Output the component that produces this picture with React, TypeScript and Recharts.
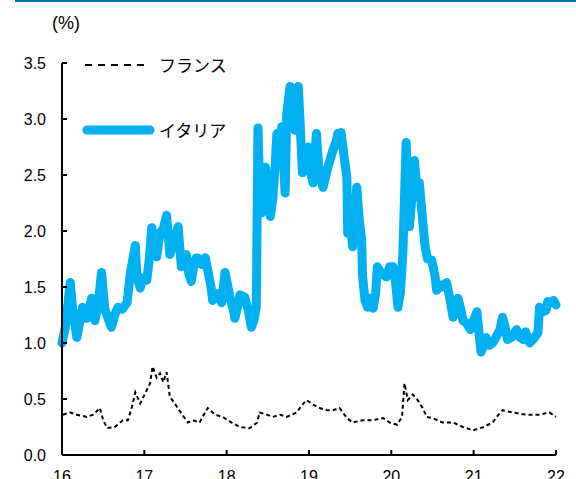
import { LineChart, Line, XAxis, YAxis } from "recharts"

// Italy spread (%), year as decimal (16 = 2016)
const italyYears = [
  16.0, 16.04, 16.1, 16.13, 16.18, 16.22, 16.25, 16.3, 16.36, 16.4, 16.44, 16.48, 16.52, 16.56, 16.6, 16.64,
  16.68, 16.73, 16.79, 16.83, 16.89, 16.91, 16.95, 16.98, 17.03, 17.06, 17.09, 17.12, 17.15, 17.19, 17.23, 17.27,
  17.31, 17.36, 17.41, 17.45, 17.48, 17.51, 17.54, 17.57, 17.6, 17.63, 17.65, 17.7, 17.74, 17.77, 17.81, 17.83,
  17.89, 17.94, 17.98, 18.01, 18.04, 18.08, 18.1, 18.14, 18.16, 18.22, 18.26, 18.3, 18.33, 18.36, 18.38, 18.4,
  18.42, 18.47, 18.5, 18.53, 18.56, 18.59, 18.61, 18.64, 18.67, 18.71, 18.73, 18.77, 18.8, 18.83, 18.87, 18.89,
  18.92, 18.95, 18.99, 19.01, 19.05, 19.09, 19.12, 19.17, 19.19, 19.23, 19.29, 19.33, 19.35, 19.39, 19.42, 19.46,
  19.47, 19.5, 19.53, 19.58, 19.61, 19.64, 19.65, 19.68, 19.71, 19.75, 19.78, 19.81, 19.83, 19.88, 19.94, 19.98,
  20.02, 20.05, 20.08, 20.11, 20.14, 20.16, 20.18, 20.2, 20.22, 20.25, 20.28, 20.32, 20.34, 20.38, 20.41, 20.44,
  20.49, 20.53, 20.55, 20.59, 20.62, 20.67, 20.71, 20.75, 20.79, 20.81, 20.85, 20.87, 20.91, 20.96, 21.0, 21.04,
  21.07, 21.09, 21.12, 21.15, 21.19, 21.23, 21.27, 21.32, 21.35, 21.38, 21.41, 21.46, 21.52, 21.56, 21.6, 21.63,
  21.68, 21.73, 21.78, 21.8, 21.84, 21.88, 21.9, 21.95, 21.97, 22.0,
]
const italyValues = [
  1.0, 1.14, 1.54, 1.3, 1.05, 1.2, 1.32, 1.22, 1.4, 1.2, 1.35, 1.63, 1.3, 1.22, 1.14, 1.25,
  1.32, 1.3, 1.36, 1.62, 1.87, 1.6, 1.49, 1.58, 1.56, 1.75, 2.03, 1.9, 1.77, 1.98, 2.02, 2.14,
  1.79, 1.9, 2.04, 1.68, 1.75, 1.79, 1.62, 1.55, 1.68, 1.76, 1.76, 1.7, 1.76, 1.65, 1.5, 1.38,
  1.44, 1.36, 1.63, 1.52, 1.41, 1.3, 1.22, 1.35, 1.43, 1.41, 1.3, 1.14, 1.2, 1.32, 2.92, 2.4,
  2.16, 2.57, 2.3, 2.13, 2.28, 2.6, 2.87, 2.7, 2.93, 2.34, 3.05, 3.29, 3.1, 2.9, 3.29, 3.0,
  2.52, 2.65, 2.75, 2.55, 2.43, 2.87, 2.55, 2.39, 2.45, 2.57, 2.72, 2.8, 2.87, 2.88, 2.7, 2.48,
  1.98, 2.1, 1.86, 2.39, 2.1, 1.92, 1.6, 1.38, 1.32, 1.4, 1.31, 1.45, 1.68, 1.62, 1.59, 1.68,
  1.68, 1.55, 1.32, 1.45, 1.8, 2.3, 2.79, 2.4, 2.04, 2.3, 2.63, 2.3, 2.43, 2.1, 1.86, 1.75,
  1.74, 1.6, 1.47, 1.52, 1.5, 1.54, 1.4, 1.23, 1.35, 1.4, 1.28, 1.2, 1.18, 1.12, 1.2, 1.28,
  1.05, 0.92, 0.98, 1.05, 0.98, 1.0, 1.05, 1.12, 1.23, 1.15, 1.03, 1.05, 1.12, 1.05, 1.03, 1.1,
  1.0, 1.04, 1.09, 1.32, 1.28, 1.29, 1.37, 1.36, 1.38, 1.34,
]

// France spread (%)
const franceYears = [
  16.01, 16.1, 16.18, 16.3, 16.38, 16.46, 16.5, 16.55, 16.64, 16.74, 16.8, 16.85, 16.89, 16.95, 17.01, 17.07,
  17.1, 17.15, 17.19, 17.23, 17.27, 17.31, 17.37, 17.46, 17.53, 17.59, 17.67, 17.77, 17.86, 17.95, 18.06, 18.16,
  18.28, 18.37, 18.4, 18.49, 18.56, 18.65, 18.73, 18.85, 18.92, 18.97, 19.05, 19.13, 19.22, 19.29, 19.37, 19.46,
  19.53, 19.65, 19.77, 19.9, 19.98, 20.07, 20.13, 20.16, 20.2, 20.26, 20.32, 20.38, 20.43, 20.5, 20.62, 20.75,
  20.87, 20.99, 21.12, 21.23, 21.28, 21.35, 21.47, 21.64, 21.8, 21.92, 22.0,
]
const franceValues = [
  0.36, 0.38, 0.36, 0.34, 0.36, 0.42, 0.31, 0.24, 0.25, 0.31, 0.31, 0.43, 0.56, 0.46, 0.55, 0.64,
  0.79, 0.69, 0.73, 0.65, 0.74, 0.52, 0.46, 0.36, 0.29, 0.31, 0.29, 0.42, 0.36, 0.34, 0.29, 0.25,
  0.24, 0.29, 0.38, 0.36, 0.34, 0.36, 0.34, 0.38, 0.45, 0.49, 0.45, 0.42, 0.4, 0.4, 0.42, 0.33,
  0.29, 0.31, 0.31, 0.33, 0.29, 0.27, 0.34, 0.64, 0.49, 0.54, 0.49, 0.42, 0.34, 0.33, 0.29, 0.29,
  0.25, 0.22, 0.25, 0.29, 0.34, 0.4, 0.38, 0.36, 0.36, 0.38, 0.34,
]

const xTicks = [16, 17, 18, 19, 20, 21, 22]
const yTicks = [0, 0.5, 1, 1.5, 2, 2.5, 3, 3.5]

const italyData = italyYears.map((x, i) => ({ x, v: italyValues[i] }))
const franceData = franceYears.map((x, i) => ({ x, v: franceValues[i] }))

const ITALY = "#00b0f0"
const NUM_FONT = "'Liberation Sans', Arial, sans-serif"
const JP_FONT = "'Noto Sans CJK JP', sans-serif"

export default function App() {
  return (
    <div style={{ position: "absolute", left: 0, top: 0, width: 576, height: 479, background: "#fff", overflow: "hidden" }}>
      <div style={{ position: "absolute", left: 15, top: 0, width: 561, height: 2, background: "#0070c0" }} />
      <div style={{ position: "absolute", left: 52, top: 12, fontFamily: NUM_FONT, fontSize: 18, lineHeight: "22px", color: "#000" }}>
        (%)
      </div>
      <LineChart width={576} height={479} margin={{ top: 63, right: 20, bottom: 0, left: 12 }}>
        <XAxis
          dataKey="x"
          type="number"
          domain={[16, 22]}
          ticks={xTicks}
          allowDuplicatedCategory={false}
          height={24}
          tickSize={-5}
          tickMargin={21}
          axisLine={{ stroke: "#000", strokeWidth: 2 }}
          tickLine={{ stroke: "#000", strokeWidth: 2 }}
          tick={{ fill: "#000", fontSize: 16, fontFamily: NUM_FONT }}
        />
        <YAxis
          dataKey="v"
          type="number"
          domain={[0, 3.5]}
          ticks={yTicks}
          width={50}
          tickSize={-5}
          tickMargin={21}
          tickFormatter={(v: number) => v.toFixed(1)}
          axisLine={{ stroke: "#000", strokeWidth: 2 }}
          tickLine={{ stroke: "#000", strokeWidth: 2 }}
          tick={{ fill: "#000", fontSize: 16, fontFamily: NUM_FONT }}
        />
        <Line
          data={italyData}
          dataKey="v"
          type="linear"
          stroke={ITALY}
          strokeWidth={9}
          strokeLinejoin="round"
          strokeLinecap="round"
          dot={false}
          isAnimationActive={false}
        />
        <Line
          data={franceData}
          dataKey="v"
          type="linear"
          stroke="#000"
          strokeWidth={2}
          strokeDasharray="4 3"
          dot={false}
          isAnimationActive={false}
        />
      </LineChart>
      <svg style={{ position: "absolute", left: 0, top: 0 }} width={576} height={479} pointerEvents="none">
        <line x1={85} y1={65} x2={150} y2={65} stroke="#000" strokeWidth={2} strokeDasharray="7 6" />
        <line x1={87} y1={130} x2={150} y2={130} stroke={ITALY} strokeWidth={9} strokeLinecap="round" />
      </svg>
      <div style={{ position: "absolute", left: 159, top: 53, fontFamily: JP_FONT, fontSize: 17, lineHeight: "24px", color: "#000" }}>
        フランス
      </div>
      <div style={{ position: "absolute", left: 159, top: 118, fontFamily: JP_FONT, fontSize: 17, lineHeight: "24px", color: "#000" }}>
        イタリア
      </div>
    </div>
  )
}
